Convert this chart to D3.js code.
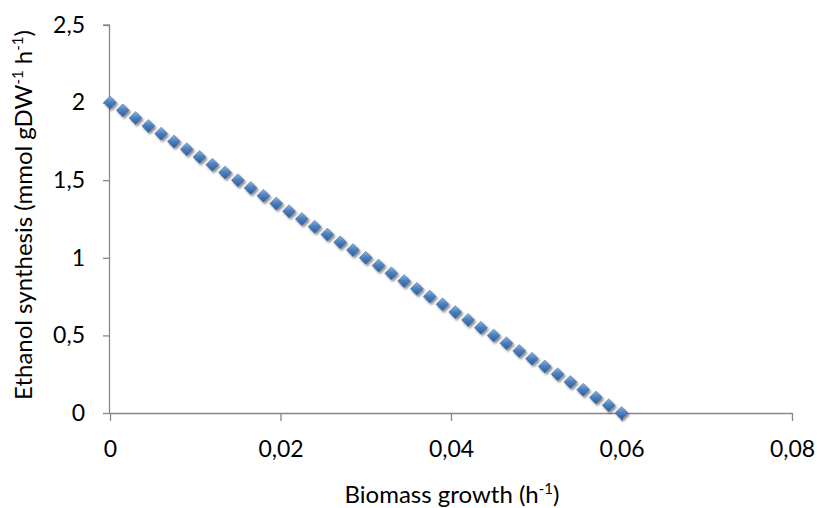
<!DOCTYPE html>
<html>
<head>
<meta charset="utf-8">
<script src="https://cdn.jsdelivr.net/npm/d3@7"></script>
<style>
  body { margin: 0; background: #fff; }
  text { font-family: Lato, "Open Sans", sans-serif; fill: #000; }
</style>
</head>
<body>
<div id="chart"></div>
<script>
(function () {
  "use strict";

  // biomass growth (h-1) and ethanol synthesis (mmol gDW-1 h-1)
  var growth = [0, 0.0015, 0.003, 0.0045, 0.006, 0.0075, 0.009, 0.0105, 0.012, 0.0135,
    0.015, 0.0165, 0.018, 0.0195, 0.021, 0.0225, 0.024, 0.0255, 0.027, 0.0285,
    0.03, 0.0315, 0.033, 0.0345, 0.036, 0.0375, 0.039, 0.0405, 0.042, 0.0435,
    0.045, 0.0465, 0.048, 0.0495, 0.051, 0.0525, 0.054, 0.0555, 0.057, 0.0585, 0.06];
  var ethanol = [2, 1.95, 1.9, 1.85, 1.8, 1.75, 1.7, 1.65, 1.6, 1.55,
    1.5, 1.45, 1.4, 1.35, 1.3, 1.25, 1.2, 1.15, 1.1, 1.05,
    1, 0.95, 0.9, 0.85, 0.8, 0.75, 0.7, 0.65, 0.6, 0.55,
    0.5, 0.45, 0.4, 0.35, 0.3, 0.25, 0.2, 0.15, 0.1, 0.05, 0];
  var xTicks = [0, 0.02, 0.04, 0.06, 0.08];
  var yTicks = [0, 0.5, 1, 1.5, 2, 2.5];

  var w = 817, h = 508,
    left = 110, right = 792, top = 25, bottom = 413,
    fmt = function (v) { return String(v).replace(".", ","); };

  var svg = d3.select("#chart").append("svg")
    .attr("width", w).attr("height", h);

  var defs = svg.append("defs");
  var grad = defs.append("linearGradient").attr("id", "mk")
    .attr("x1", 0).attr("y1", 0).attr("x2", 0).attr("y2", 1);
  grad.append("stop").attr("offset", "0%").attr("stop-color", "#8fb4e3");
  grad.append("stop").attr("offset", "45%").attr("stop-color", "#4f81bd");
  grad.append("stop").attr("offset", "100%").attr("stop-color", "#2c5d98");
  var shadow = defs.append("filter").attr("id", "sh")
    .attr("x", "-50%").attr("y", "-50%").attr("width", "200%").attr("height", "200%");
  shadow.append("feDropShadow").attr("dx", 1.5).attr("dy", 2).attr("stdDeviation", 1.3)
    .attr("flood-color", "#000").attr("flood-opacity", 0.45);

  var x = d3.scaleLinear().domain([0, 0.08]).range([left, right]);
  var y = d3.scaleLinear().domain([0, 2.5]).range([bottom, top]);

  var xAxis = svg.append("g")
    .attr("transform", "translate(0," + bottom + ")")
    .call(d3.axisBottom(x).tickValues(xTicks).tickSize(8).tickPadding(20).tickFormat(fmt));
  var yAxis = svg.append("g")
    .attr("transform", "translate(" + left + ",0)")
    .call(d3.axisLeft(y).tickValues(yTicks).tickSize(7).tickPadding(18).tickFormat(fmt));

  [xAxis, yAxis].forEach(function (a) {
    a.select(".domain").attr("stroke", "#878787").attr("stroke-width", 1.3);
    a.selectAll(".tick line").attr("stroke", "#878787").attr("stroke-width", 1.3);
    a.selectAll("text").style("font-size", "23px").attr("fill", "#000")
      .style("font-family", "Lato, 'Open Sans', sans-serif");
  });
  // axis line only, no outer tick stubs
  xAxis.select(".domain").attr("d", "M" + left + ",0.5H" + right);
  yAxis.select(".domain").attr("d", "M-0.5," + bottom + "V" + top);
  yAxis.append("line").attr("x1", -7).attr("x2", 0).attr("y1", y(2.5)).attr("y2", y(2.5))
    .attr("stroke", "#878787").attr("stroke-width", 1.3);

  var pts = growth.map(function (g, i) { return { g: g, e: ethanol[i] }; });
  svg.append("g").selectAll("path")
    .data(pts)
    .enter().append("path")
    .attr("d", "M0,-6.5L6.5,0L0,6.5L-6.5,0Z")
    .attr("transform", function (d) { return "translate(" + x(d.g) + "," + y(d.e) + ")"; })
    .attr("fill", "url(#mk)")
    .attr("stroke", "#3a6aa5").attr("stroke-width", 0.5)
    .attr("filter", "url(#sh)");

  var xl = svg.append("text")
    .attr("x", 452).attr("y", 503)
    .attr("text-anchor", "middle").style("font-size", "24px");
  xl.append("tspan").text("Biomass growth (h");
  xl.append("tspan").attr("dy", -9).style("font-size", "15px").text("-1");
  xl.append("tspan").attr("dy", 9).text(")");

  var yl = svg.append("text")
    .attr("transform", "translate(32," + 215 + ") rotate(-90)")
    .attr("text-anchor", "middle").style("font-size", "24px");
  yl.append("tspan").text("Ethanol synthesis (mmol gDW");
  yl.append("tspan").attr("dy", -9).style("font-size", "15px").text("-1");
  yl.append("tspan").attr("dy", 9).text(" h");
  yl.append("tspan").attr("dy", -9).style("font-size", "15px").text("-1");
  yl.append("tspan").attr("dy", 9).text(")");
})();
</script>
</body>
</html>
